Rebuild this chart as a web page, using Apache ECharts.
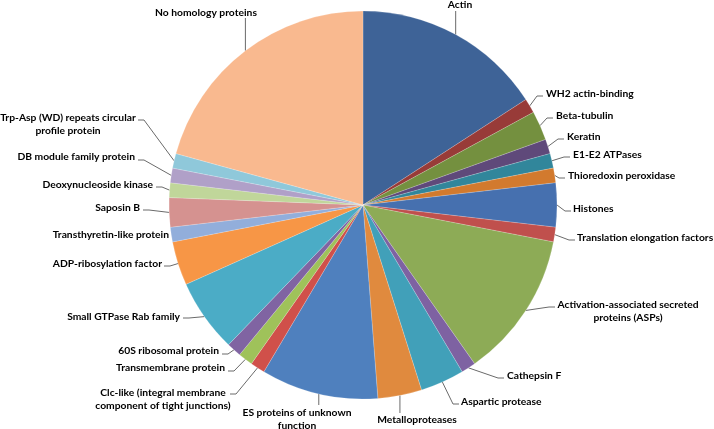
<!DOCTYPE html>
<html>
<head>
<meta charset="utf-8">
<script src="https://cdn.jsdelivr.net/npm/echarts@6/dist/echarts.min.js"></script>
<style>
  html, body { margin: 0; padding: 0; background: #fff; }
  #main { width: 714px; height: 429px; }
</style>
</head>
<body>
<div id="main"></div>
<script>
const names = [
  'Actin', 'WH2 actin-binding', 'Beta-tubulin', 'Keratin', 'E1-E2 ATPases',
  'Thioredoxin peroxidase', 'Histones', 'Translation elongation factors',
  'Activation-associated secreted\nproteins (ASPs)', 'Cathepsin F', 'Aspartic protease',
  'Metalloproteases', 'ES proteins of unknown\nfunction',
  'Clc-like (integral membrane\ncomponent of tight junctions)', 'Transmembrane protein',
  '60S ribosomal protein', 'Small GTPase Rab family', 'ADP-ribosylation factor',
  'Transthyretin-like protein', 'Saposin B', 'Deoxynucleoside kinase',
  'DB module family protein', 'Trp-Asp (WD) repeats circular\nprofile protein',
  'No homology proteins'
]
const counts = [13, 1, 2, 1, 1, 1, 3, 1, 10, 1, 3, 3, 8, 1, 1, 1, 5, 3, 1, 2, 1, 1, 1, 17]
const colors = [
  '#3e6397', '#983b38', '#74903f', '#5f497a', '#31869b', '#d27a2e', '#4670af', '#c0504d',
  '#8dab56', '#7e62a2', '#41a0b9', '#e08a3e', '#4f80be', '#d0504a', '#9fc25a', '#8064a2',
  '#4bacc6', '#f79646', '#92aedb', '#d59290', '#c0d69a', '#b0a0c8', '#8fc8da', '#f9b98f'
]

// label placement: [textX, textY, align, lineEndX, lineEndY, kind]
// kind: 'h' = bent leader line, 'v' = vertical leader line, 'n' = no line
const labelPos = [
  [460, 5, 'center', 0, 11, 'v'],
  [546, 94, 'left', 543, 96, 'h'],
  [556, 116, 'left', 553, 118, 'h'],
  [567, 137, 'left', 564, 139, 'h'],
  [573, 155, 'left', 570, 157, 'h'],
  [568, 176, 'left', 565, 178, 'h'],
  [573, 209, 'left', 571, 211, 'h'],
  [577, 238, 'left', 575, 240, 'h'],
  [628, 311, 'center', 555, 307, 'h'],
  [507, 376, 'left', 504, 378, 'h'],
  [461, 402, 'left', 459, 404, 'h'],
  [417, 420, 'center', 0, 413, 'v'],
  [297, 419, 'center', 0, 405, 'v'],
  [163, 399, 'center', 230, 394, 'h'],
  [225, 368, 'right', 228, 371, 'h'],
  [219, 351, 'right', 222, 354, 'h'],
  [180, 317, 'right', 183, 318, 'h'],
  [162, 264, 'right', 164, 266, 'h'],
  [169, 235, 'right', 0, 0, 'n'],
  [140, 208, 'right', 143, 210, 'h'],
  [153, 185, 'right', 156, 187, 'h'],
  [135, 157, 'right', 138, 160, 'h'],
  [68, 124, 'center', 138, 120, 'h'],
  [206, 13, 'center', 0, 18, 'v']
]

const cx = 363, cy = 205, R = 194
const total = counts.reduce((a, b) => a + b, 0)
const midAngles = []
let acc = 0
counts.forEach(v => {
  midAngles.push((acc + v / 2) / total * 2 * Math.PI)
  acc += v
})

const myChart = echarts.init(document.getElementById('main'))

myChart.setOption({
  animation: false,
  series: [{
    type: 'pie',
    center: [cx, cy],
    radius: R,
    startAngle: 90,
    clockwise: true,
    avoidLabelOverlap: false,
    itemStyle: {
      borderColor: 'rgba(255,255,255,0.3)',
      borderWidth: 0.6
    },
    label: {
      show: true,
      position: 'outside',
      fontFamily: 'Lato',
      fontWeight: 'bold',
      fontSize: 10.3,
      lineHeight: 13,
      color: '#000'
    },
    labelLine: {
      show: true,
      lineStyle: { color: '#6a6a6a', width: 1 }
    },
    labelLayout: function (params) {
      const i = params.dataIndex
      const p = labelPos[i]
      const a = midAngles[i]
      const ex = cx + R * Math.sin(a), ey = cy - R * Math.cos(a)
      let pts
      if (p[5] === 'v') {
        pts = [[ex, ey], [ex, p[4]]]
      } else if (p[5] === 'h') {
        const dir = p[3] > ex ? 1 : -1
        pts = [[ex, ey], [p[3] - dir * 6, p[4]], [p[3], p[4]]]
      } else {
        pts = [[ex, ey], [ex, ey]]
      }
      return {
        x: p[0], y: p[1], align: p[2], verticalAlign: 'middle',
        labelLinePoints: pts
      }
    },
    data: names.map((n, i) => ({
      name: n,
      value: counts[i],
      itemStyle: { color: colors[i] },
      labelLine: { show: labelPos[i][5] !== 'n' },
      label: { align: labelPos[i][2] }
    }))
  }]
})
</script>
</body>
</html>
